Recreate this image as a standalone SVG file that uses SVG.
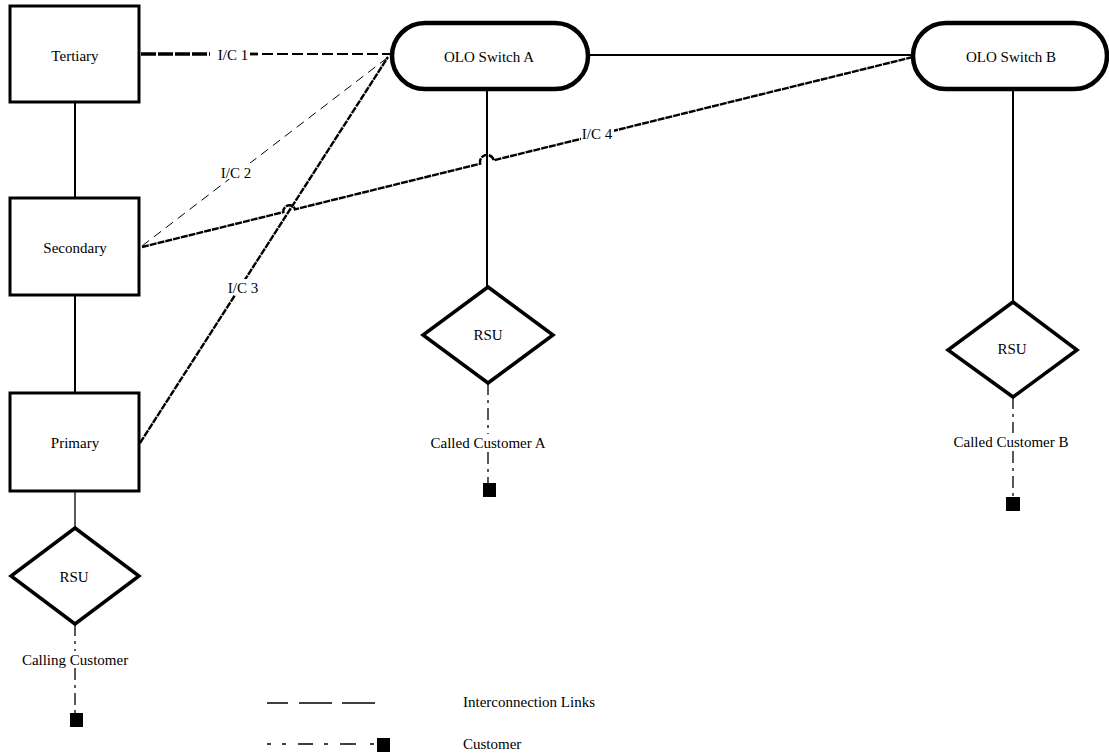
<svg xmlns="http://www.w3.org/2000/svg" width="1109" height="753" viewBox="0 0 1109 753" font-family="'Liberation Serif', 'DejaVu Serif', 'Times New Roman', Times, serif">
<style>
text{font-family:'Liberation Serif','DejaVu Serif','Times New Roman',Times,serif;font-size:15px;fill:#000;text-anchor:middle}
.box{fill:#fff;stroke:#000;stroke-width:3}
.sw{fill:#fff;stroke:#000;stroke-width:4.5}
.dia{fill:#fff;stroke:#000;stroke-width:3.5}
.solid{stroke:#000;stroke-width:2;fill:none}
.thin{stroke:#000;stroke-width:1.3;fill:none}
.ic{stroke:#000;stroke-width:2.4;fill:none;stroke-dasharray:7 1}
.ic2{stroke:#000;stroke-width:1;fill:none;stroke-dasharray:9 6}
.cust{stroke:#000;stroke-width:1.3;fill:none;stroke-dasharray:12 5 3 5}
.sq{fill:#000}
.lt{text-anchor:start}
</style>
<rect width="1109" height="753" fill="#fff"/>
<g id="connectors">
<line class="solid" x1="75" y1="102" x2="75" y2="198"/>
<line class="solid" x1="75" y1="295" x2="75" y2="393"/>
<line class="thin" x1="75" y1="491" x2="75" y2="528"/>
<line class="solid" x1="588" y1="55" x2="913" y2="55"/>
<line class="solid" x1="487" y1="89" x2="487" y2="288"/>
<line class="solid" x1="1013" y1="89" x2="1013" y2="302"/>
<g id="ic1">
<line x1="141" y1="54" x2="210" y2="54" stroke="#000" stroke-width="3.6" stroke-dasharray="15 2"/>
<line x1="250" y1="54" x2="258" y2="54" stroke="#000" stroke-width="2.8"/>
<line x1="262" y1="54" x2="391" y2="54" stroke="#000" stroke-width="2.2" stroke-dasharray="11 4"/>
<text x="233" y="60">I/C 1</text>
</g>
<g id="ic2">
<line class="ic2" x1="142" y1="246" x2="387" y2="58"/>
<rect x="220" y="163" width="32" height="16" fill="#fff"/>
<text x="236" y="178">I/C 2</text>
</g>
<g id="ic3">
<line class="ic" x1="140" y1="443" x2="388" y2="57"/>
<rect x="226" y="279" width="34" height="16" fill="#fff"/>
<text x="243" y="293">I/C 3</text>
</g>
<g id="ic4">
<path class="ic" d="M142,247 L283.4,212.1 A6,6 0 0 1 295,209.3 L480.2,163.7 A7,7 0 0 1 493.8,160.3 L913,57"/>
<rect x="581" y="125" width="33" height="16" fill="#fff"/>
<text x="597" y="139">I/C 4</text>
</g>
<g id="cust-links">
<line class="cust" x1="75" y1="624" x2="75" y2="651"/>
<line class="cust" x1="75" y1="668" x2="75" y2="713"/>
<line class="cust" x1="488" y1="383" x2="488" y2="434"/>
<line class="cust" x1="488" y1="452" x2="488" y2="483"/>
<line class="cust" x1="1013" y1="397" x2="1013" y2="433"/>
<line class="cust" x1="1013" y1="451" x2="1013" y2="497"/>
</g>
</g>
<g id="tertiary"><rect class="box" x="10" y="6" width="129" height="96"/><text x="75" y="61">Tertiary</text></g>
<g id="secondary"><rect class="box" x="10" y="198" width="129" height="97"/><text x="75" y="253">Secondary</text></g>
<g id="primary"><rect class="box" x="10" y="393" width="129" height="98"/><text x="75" y="448">Primary</text></g>
<g id="rsu-calling"><polygon class="dia" points="75,528 139,576 75,624 11,576"/><text x="74" y="582">RSU</text></g>
<g id="calling-customer"><text x="75" y="665">Calling Customer</text><rect class="sq" x="70" y="713" width="13" height="14"/></g>
<g id="olo-a"><rect class="sw" x="392" y="23" width="196" height="66" rx="33"/><text x="489" y="62">OLO Switch A</text></g>
<g id="olo-b"><rect class="sw" x="913" y="23" width="194" height="66" rx="33"/><text x="1011" y="62">OLO Switch B</text></g>
<g id="rsu-a"><polygon class="dia" points="488,287 553,335 488,383 423,335"/><text x="488" y="340">RSU</text></g>
<g id="called-a"><text x="488" y="448">Called Customer A</text><rect class="sq" x="483" y="483" width="13" height="14"/></g>
<g id="rsu-b"><polygon class="dia" points="1013,302 1077,350 1013,397 948,350"/><text x="1012" y="354">RSU</text></g>
<g id="called-b"><text x="1011" y="447">Called Customer B</text><rect class="sq" x="1006" y="497" width="14" height="14"/></g>
<g id="legend">
<line x1="267" y1="703" x2="375" y2="703" stroke="#000" stroke-width="1.3" stroke-dasharray="21 11 33 10 33"/>
<text class="lt" x="463" y="707">Interconnection Links</text>
<line x1="267" y1="744" x2="377" y2="744" stroke="#000" stroke-width="1.3" stroke-dasharray="4 11 4 12 15 11 4 12 16 14 4"/>
<rect class="sq" x="377" y="738" width="13" height="14"/>
<text class="lt" x="463" y="749">Customer</text>
</g>
</svg>
